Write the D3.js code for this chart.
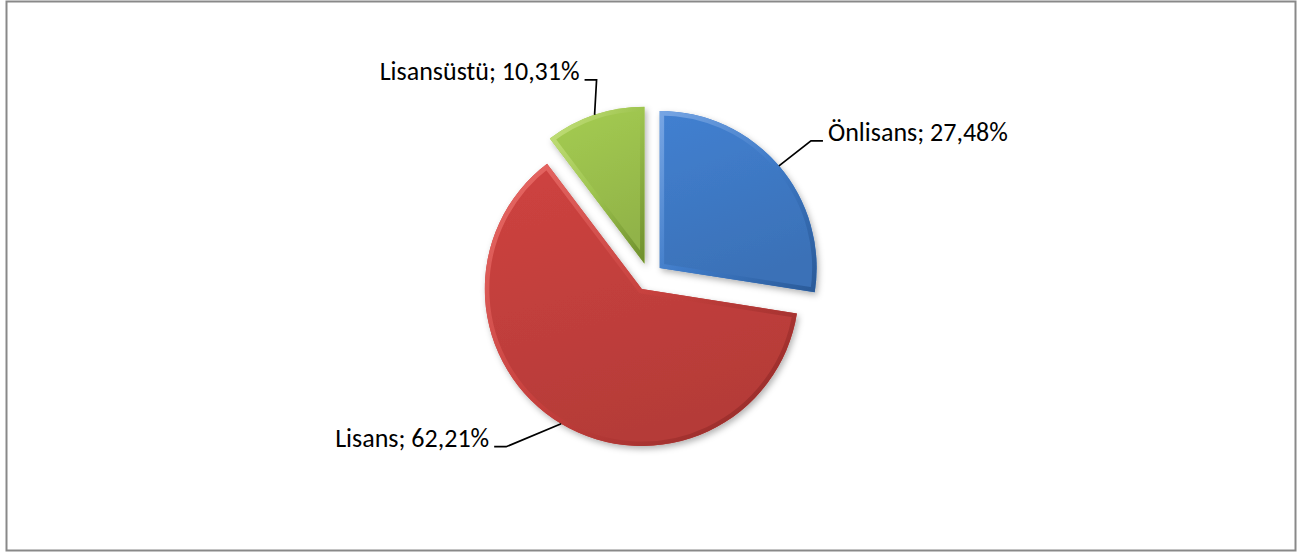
<!DOCTYPE html>
<html>
<head>
<meta charset="utf-8">
<script src="https://cdn.jsdelivr.net/npm/d3@7"></script>
<style>
  html, body { margin: 0; padding: 0; background: #fff; }
</style>
</head>
<body>
<div id="grafik"></div>
<script>
document.addEventListener('DOMContentLoaded', function() {
    // Veriler
    const kategoriler = ['Önlisans', 'Lisans', 'Lisansüstü'];
    const yuzdeler = [27.48, 62.21, 10.31];
    const etiketler = ['Önlisans; 27,48%', 'Lisans; 62,21%', 'Lisansüstü; 10,31%'];

    // Renkler: [açık, ana, koyu]
    const renkler = [
        ['#78a6e4', '#3f7bc8', '#2a5a98'],
        ['#ea6c68', '#c6403d', '#8c2826'],
        ['#c6e27e', '#9ec44f', '#6e8e2d']
    ];

    const genislik = 1301;
    const yukseklik = 554;
    const merkez = { x: 649, y: 277 };
    const yaricap = 157;
    const ayrilma = 14;

    // etiket çizgisi kırılma noktaları (dilim kenarına göre)
    const kirilma = [[32, -25], [-55, 23], [2, -35]];
    const yon = [1, -1, -1];

    const svg = d3.select('#grafik')
        .append('svg')
        .attr('width', genislik)
        .attr('height', yukseklik);

    const defs = svg.append('defs');

    const golge = defs.append('filter')
        .attr('id', 'golge')
        .attr('x', '-20%').attr('y', '-20%')
        .attr('width', '140%').attr('height', '140%');
    golge.append('feDropShadow')
        .attr('dx', 2).attr('dy', 3)
        .attr('stdDeviation', 3)
        .attr('flood-color', '#000')
        .attr('flood-opacity', 0.3);

    renkler.forEach(function(r, i) {
        const g1 = defs.append('linearGradient')
            .attr('id', 'dolgu' + i)
            .attr('x1', 0).attr('y1', 0).attr('x2', 0.3).attr('y2', 1);
        g1.append('stop').attr('offset', '0%').attr('stop-color', d3.color(r[1]).brighter(0.12));
        g1.append('stop').attr('offset', '100%').attr('stop-color', d3.color(r[1]).darker(0.25));

        const g2 = defs.append('linearGradient')
            .attr('id', 'kenar' + i)
            .attr('x1', 0).attr('y1', 0).attr('x2', 1).attr('y2', 1);
        g2.append('stop').attr('offset', '0%').attr('stop-color', r[0]);
        g2.append('stop').attr('offset', '50%').attr('stop-color', r[1]);
        g2.append('stop').attr('offset', '100%').attr('stop-color', r[2]);
    });

    // Çerçeve
    svg.append('rect')
        .attr('x', 6.5)
        .attr('y', 1.5)
        .attr('width', 1289)
        .attr('height', 549)
        .attr('fill', 'none')
        .attr('stroke', '#898989')
        .attr('stroke-width', 2);

    const pasta = d3.pie().sort(null).value(d => d);
    const yay = d3.arc().innerRadius(0).outerRadius(yaricap);
    const dilimler = pasta(yuzdeler);

    function orta(d) { return (d.startAngle + d.endAngle) / 2; }

    const grup = svg.append('g')
        .attr('transform', `translate(${merkez.x}, ${merkez.y})`);

    const dilim = grup.selectAll('g.dilim')
        .data(dilimler)
        .enter()
        .append('g')
        .attr('class', 'dilim')
        .attr('transform', d => {
            const a = orta(d);
            return `translate(${ayrilma * Math.sin(a)}, ${-ayrilma * Math.cos(a)})`;
        });

    dilim.append('clipPath')
        .attr('id', (d, i) => 'kirp' + i)
        .append('path')
        .attr('d', yay);

    dilim.append('path')
        .attr('d', yay)
        .attr('fill', (d, i) => `url(#dolgu${i})`)
        .attr('filter', 'url(#golge)');

    dilim.append('path')
        .attr('d', yay)
        .attr('fill', 'none')
        .attr('stroke', (d, i) => `url(#kenar${i})`)
        .attr('stroke-width', 9)
        .attr('stroke-linejoin', 'round')
        .attr('clip-path', (d, i) => `url(#kirp${i})`);

    // Etiketler ve çizgiler
    dilimler.forEach(function(d, i) {
        const a = orta(d);
        const rr = yaricap + ayrilma;
        const p0 = [merkez.x + rr * Math.sin(a), merkez.y - rr * Math.cos(a)];
        const p1 = [p0[0] + kirilma[i][0], p0[1] + kirilma[i][1]];
        const p2 = [p1[0] + yon[i] * 12, p1[1]];

        svg.append('path')
            .attr('d', d3.line()([p0, p1, p2]))
            .attr('fill', 'none')
            .attr('stroke', '#000')
            .attr('stroke-width', 1.7);

        svg.append('text')
            .attr('x', p2[0] + yon[i] * 5)
            .attr('y', p2[1])
            .attr('text-anchor', yon[i] > 0 ? 'start' : 'end')
            .style('font-family', 'Carlito, Calibri, "Open Sans", sans-serif')
            .style('font-size', '26px')
            .attr('fill', '#000')
            .text(etiketler[i]);
    });
});
</script>
</body>
</html>
